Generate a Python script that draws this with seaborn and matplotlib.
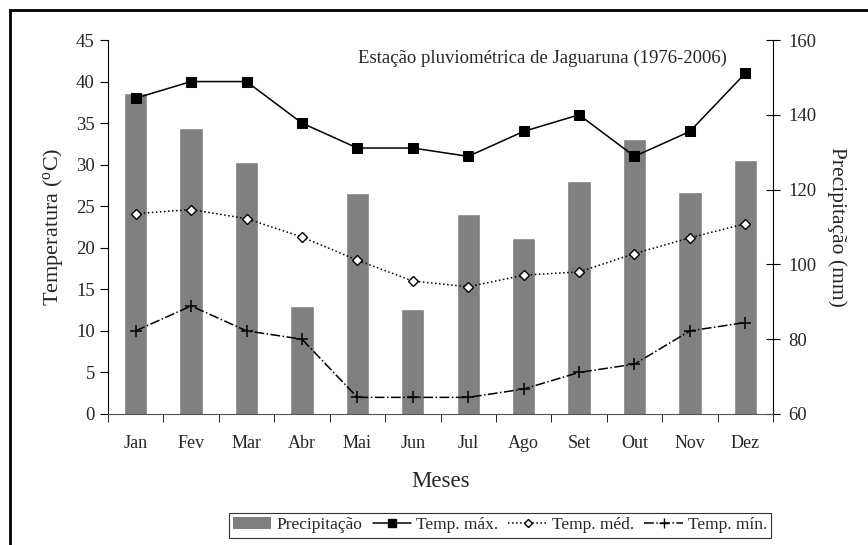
import matplotlib
matplotlib.use('Agg')
import matplotlib.pyplot as plt
import seaborn as sns
from matplotlib.patches import Rectangle, Patch
from matplotlib.lines import Line2D
from matplotlib.ticker import MultipleLocator, FixedLocator

# data
meses = ['Jan', 'Fev', 'Mar', 'Abr', 'Mai', 'Jun', 'Jul', 'Ago', 'Set', 'Out', 'Nov', 'Dez']
precipitacao = [145.8, 136.5, 127.4, 88.9, 119.1, 88.1, 113.5, 107.1, 122.3, 133.5, 119.4, 127.9]
temp_max = [38, 40, 40, 35, 32, 32, 31, 34, 36, 31, 34, 41]
temp_med = [24.1, 24.6, 23.5, 21.3, 18.5, 16.0, 15.3, 16.7, 17.1, 19.3, 21.2, 22.9]
temp_min = [10, 13, 10, 9, 2, 2, 2, 3, 5, 6, 10, 11]

sns.set_style('white')
plt.rcParams['font.family'] = ['Liberation Serif', 'DejaVu Serif']
plt.rcParams['mathtext.fontset'] = 'custom'
plt.rcParams['mathtext.rm'] = 'Liberation Serif'

fig = plt.figure(figsize=(8.68, 5.45), dpi=100)
ax = fig.add_axes([0.1244, 0.2404, 0.7662, 0.6862])
ax2 = ax.twinx()

# bars on the secondary axis, drawn behind the temperature lines
sns.barplot(x=meses, y=precipitacao, color='#808080', saturation=1, width=0.42, ax=ax2)
ax.set_zorder(ax2.get_zorder() + 1)
ax.patch.set_visible(False)

sns.lineplot(x=meses, y=temp_max, ax=ax, color='black', lw=1.1, marker='s', markersize=6.5,
             markeredgecolor='black', sort=False, errorbar=None)
sns.lineplot(x=meses, y=temp_med, ax=ax, color='black', lw=1.1, linestyle=':', marker='D',
             markersize=5, markerfacecolor='white', markeredgecolor='black', markeredgewidth=1,
             sort=False, errorbar=None)
sns.lineplot(x=meses, y=temp_min, ax=ax, color='black', lw=1.1, linestyle='-.', marker='+',
             markersize=8, markeredgewidth=1.1, markeredgecolor='black', sort=False, errorbar=None)

ax.set_xlim(-0.5, 11.5)
ax.set_ylim(0, 45)
ax2.set_ylim(60, 160)
ax.yaxis.set_major_locator(MultipleLocator(5))
ax2.yaxis.set_major_locator(MultipleLocator(20))

ax.set_xticks(range(12))
ax.set_xticklabels(meses)
ax.xaxis.set_minor_locator(FixedLocator([i - 0.5 for i in range(13)]))
ax.tick_params(axis='x', which='major', length=0, pad=15, labelsize=13, bottom=True)
ax.tick_params(axis='x', which='minor', length=6, direction='out', bottom=True, color='black')
ax.tick_params(axis='y', length=6, direction='out', left=True, labelsize=13.5, color='black')
ax2.tick_params(axis='y', length=10, direction='inout', right=True, labelsize=13.5, color='black', pad=6)

for a in (ax, ax2):
    for s in a.spines.values():
        s.set_visible(False)
ax.spines['left'].set_visible(True)
ax.spines['left'].set_color('black')
ax.spines['bottom'].set_visible(True)
ax.spines['bottom'].set_color('#555555')
ax2.spines['right'].set_visible(True)
ax2.spines['right'].set_color('black')

ax.set_xlabel('Meses', fontsize=16.5, labelpad=14)
ax.set_ylabel(r'Temperatura ($\mathregular{^o}$C)', fontsize=16, labelpad=8)
ax2.set_ylabel('Precipitação (mm)', fontsize=15.5, rotation=270, labelpad=22)

ax.text(0.654, 0.952, 'Estação pluviométrica de Jaguaruna (1976-2006)', transform=ax.transAxes,
        ha='center', va='center', fontsize=13.5)

handles = [
    Patch(facecolor='#808080', edgecolor='none'),
    Line2D([], [], color='black', lw=1.1, marker='s', markersize=6),
    Line2D([], [], color='black', lw=1.1, linestyle=':', marker='D', markersize=4.5,
           markerfacecolor='white', markeredgecolor='black'),
    Line2D([], [], color='black', lw=1.1, linestyle='-.', marker='+', markersize=7),
]
labels = ['Precipitação', 'Temp. máx.', 'Temp. méd.', 'Temp. mín.']
leg = fig.legend(handles, labels, loc='center', bbox_to_anchor=(0.576, 0.036), ncol=4,
                 fontsize=12.5, frameon=True, fancybox=False, handlelength=2.2,
                 handletextpad=0.3, columnspacing=0.6, borderpad=0.25)
leg.get_frame().set_edgecolor('black')
leg.get_frame().set_linewidth(0.8)

# outer frame of the original figure
fig.patches.append(Rectangle((10 / 868, -0.1), 1.2, 1.1 - 10 / 545, transform=fig.transFigure,
                             fill=False, edgecolor='black', linewidth=2))

fig.savefig('out.png', dpi=100)
